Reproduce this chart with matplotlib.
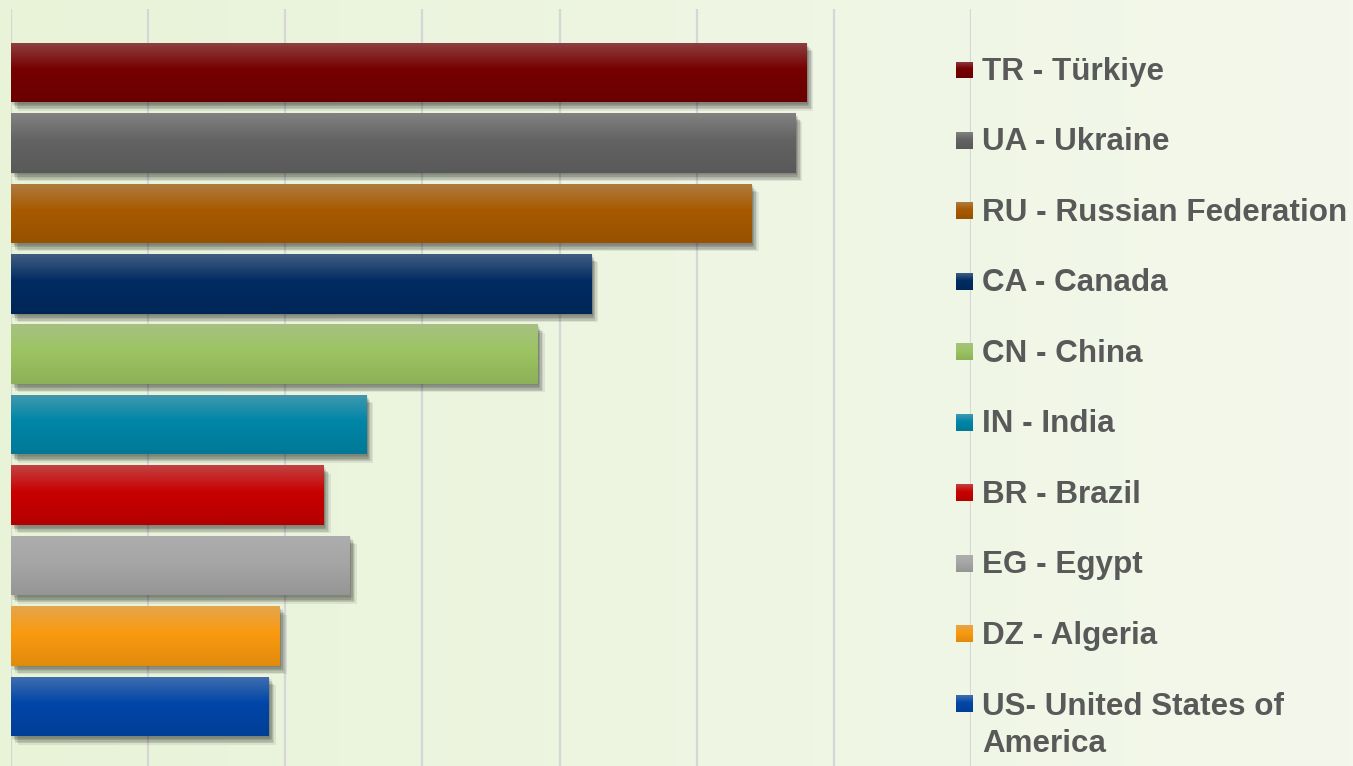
import numpy as np
import matplotlib
matplotlib.use("Agg")
import matplotlib.pyplot as plt
import matplotlib.patheffects as pe
from matplotlib.colors import to_rgb
from matplotlib.patches import Rectangle

# ---- data ----
categories = ["TR - Türkiye", "UA - Ukraine", "RU - Russian Federation", "CA - Canada",
              "CN - China", "IN - India", "BR - Brazil", "EG - Egypt", "DZ - Algeria",
              "US- United States of\nAmerica"]
values = [5.80, 5.72, 5.40, 4.23, 3.84, 2.59, 2.28, 2.47, 1.96, 1.88]
colors = ["#760000", "#636363", "#A85A00", "#002B62", "#9CC462",
          "#0086A8", "#C80000", "#A6A6A6", "#FA9A0F", "#0046A8"]
xticks = [0, 1, 2, 3, 4, 5, 6, 7]

W, H = 1353, 766
fig = plt.figure(figsize=(W / 100, H / 100), dpi=100)

# background gradient
bg = fig.add_axes([0, 0, 1, 1], zorder=-10)
left_c = np.array(to_rgb("#E8F3D8"))
right_c = np.array(to_rgb("#F4F8EC"))
t = np.linspace(0, 1, 256)
grad = (left_c[None, :] * (1 - t[:, None]) + right_c[None, :] * t[:, None])[None, :, :]
bg.imshow(grad, aspect="auto", extent=(0, 1, 0, 1))
bg.axis("off")


def bar_gradient(c):
    base = np.array(to_rgb(c))
    top = np.clip(base * 0.65 + np.array([0.62, 0.62, 0.62]) * 0.35 + 0.04, 0, 1)
    bot = base * 0.9
    s = np.linspace(0, 1, 100)
    col = np.zeros((100, 3))
    for i, v in enumerate(s):
        if v < 0.45:
            a = v / 0.45
            col[i] = top * (1 - a) + base * a
        else:
            a = (v - 0.45) / 0.55
            col[i] = base * (1 - a) + bot * a
    return col[:, None, :]


pitch = 70.44
top_px = 9
ax = fig.add_axes([11 / W, 0, (971 - 11) / W, (H - top_px) / H])
ax.set_facecolor("none")
y = np.arange(len(categories))
ylim_top = -0.5 - (72.5 - top_px - pitch / 2) / pitch
ylim_bot = ylim_top + (H - top_px) / pitch

shadows = [pe.SimplePatchShadow(offset=(dx, -dy), shadow_rgbFace="black", alpha=0.07)
           for dx, dy in [(1, 1), (2, 2), (2, 3), (3, 4), (4, 5), (5, 6), (1, 3), (3, 5)]]
bars = ax.barh(y, values, height=0.845, color=colors, zorder=3,
               path_effects=shadows + [pe.Normal()])

for b, c in zip(bars, colors):
    x0, y0 = b.get_x(), b.get_y()
    w, h = b.get_width(), b.get_height()
    im = ax.imshow(bar_gradient(c), aspect="auto", extent=(x0, x0 + w, y0 + h, y0),
                   zorder=3.5, interpolation="bilinear")
    im.set_clip_path(b)

ax.set_xlim(xticks[0], xticks[-1])
ax.set_ylim(ylim_bot, ylim_top)
ax.set_xticks(xticks)
ax.set_yticks([])
ax.grid(axis="x", color="#D6D6D6", lw=1.6, zorder=0)
ax.tick_params(axis="x", length=0, labelbottom=False)
for s in ax.spines.values():
    s.set_visible(False)

# legend (manual)
for i, (lab, c) in enumerate(zip(categories, colors)):
    ycen = 70 + i * pitch
    base_y = 80 + i * pitch
    nlines = lab.count("\n")
    lax = fig.add_axes([956 / W, 1 - (ycen + 8.5) / H, 17 / W, 17 / H])
    lax.imshow(bar_gradient(c), aspect="auto", extent=(0, 1, 1, 0), interpolation="bilinear")
    lax.axis("off")
    fig.text(982 / W, 1 - (base_y + nlines * 38) / H, lab, fontsize=22.6, fontweight="bold",
             family=["Liberation Sans", "DejaVu Sans"], color="#595959",
             va="baseline", ha="left", linespacing=1.3)

fig.savefig("out.png", dpi=100)
